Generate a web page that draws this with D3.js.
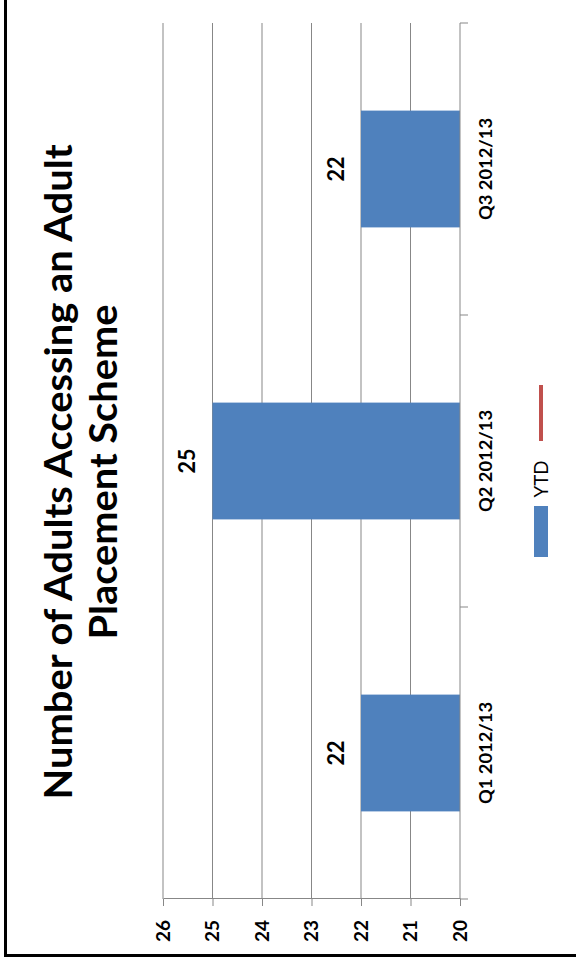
<!DOCTYPE html>
<html>
<head>
<meta charset="utf-8">
<script src="https://cdn.jsdelivr.net/npm/d3@7/dist/d3.min.js"></script>
<style>
  html, body { margin: 0; padding: 0; background: #fff; }
  svg { display: block; }
  text { font-family: Lato, "Open Sans", sans-serif; fill: #000; }
</style>
</head>
<body>
<svg id="chart" width="576" height="964"></svg>
<script>
// Quarterly counts of adults in an adult placement scheme
const categories = ["Q1 2012/13", "Q2 2012/13", "Q3 2012/13"];
const ytdValues = [22, 25, 22];
const valueTicks = [20, 21, 22, 23, 24, 25, 26];
const titleLines = ["Number of Adults Accessing an Adult", "Placement Scheme"];
const legendLabels = ["YTD", ""];

const W = 576, H = 964;
const BAR = "#4F81BD", LINE = "#C0504D", GRID = "#878787";

const svg = d3.select("#chart");

// The whole chart is laid out on its side: local u runs up the page,
// local v runs across the page to the right.
const g = svg.append("g").attr("transform", `translate(0,${H}) rotate(-90)`);

// Outer frame (continues past the top and right edges of the page)
g.append("rect")
  .attr("x", 8.5).attr("y", 5.5)
  .attr("width", 2000).attr("height", 2000)
  .attr("fill", "none").attr("stroke", "#000").attr("stroke-width", 3);

const u = d3.scaleBand().domain(categories).range([65, 941])
  .paddingInner(0.6).paddingOuter(0.3);
const v = d3.scaleLinear().domain([20, 26]).range([460, 163]);

// Gridlines
g.append("g").selectAll("line")
  .data(valueTicks.filter(t => t > 20))
  .join("line")
  .attr("x1", 65).attr("x2", 941)
  .attr("y1", d => v(d)).attr("y2", d => v(d))
  .attr("stroke", GRID).attr("stroke-width", 1);

// Bars
g.append("g").selectAll("rect")
  .data(categories.map((c, i) => ({ c, val: ytdValues[i] })))
  .join("rect")
  .attr("x", d => u(d.c))
  .attr("width", u.bandwidth())
  .attr("y", d => v(d.val))
  .attr("height", d => v(20) - v(d.val))
  .attr("fill", BAR);

// Value axis
const valueAxis = g.append("g")
  .attr("transform", "translate(65,0)")
  .call(d3.axisLeft(v).tickValues(valueTicks).tickFormat(d3.format("d"))
    .tickSize(7).tickSizeOuter(0).tickPadding(14));
valueAxis.select(".domain").attr("stroke", GRID);
valueAxis.selectAll(".tick line").attr("stroke", GRID);
valueAxis.selectAll(".tick text")
  .attr("font-family", "Lato, sans-serif")
  .attr("font-size", 19.5).attr("font-weight", "bold").attr("fill", "#000")
  .attr("textLength", 22).attr("lengthAdjust", "spacingAndGlyphs");

// Category axis
const catAxis = g.append("g")
  .attr("transform", "translate(0,460)")
  .call(d3.axisBottom(u).tickSize(0).tickPadding(20));
catAxis.select(".domain").remove();
catAxis.append("line")
  .attr("x1", 65).attr("x2", 941).attr("y1", 0).attr("y2", 0)
  .attr("stroke", GRID);
catAxis.selectAll(".tick text")
  .attr("font-family", "Lato, sans-serif")
  .attr("font-size", 16.5).attr("font-weight", "bold").attr("fill", "#000")
  .attr("textLength", 102).attr("lengthAdjust", "spacingAndGlyphs");
const step = u.step();
catAxis.append("g").selectAll("line")
  .data(d3.range(categories.length + 1))
  .join("line")
  .attr("x1", i => 65 + i * step).attr("x2", i => 65 + i * step)
  .attr("y1", 0).attr("y2", 8)
  .attr("stroke", GRID);

// Data labels
g.append("g").selectAll("text")
  .data(categories.map((c, i) => ({ c, val: ytdValues[i] })))
  .join("text")
  .attr("x", d => u(d.c) + u.bandwidth() / 2)
  .attr("y", d => v(d.val) - 25)
  .attr("dy", "0.35em")
  .attr("text-anchor", "middle")
  .attr("font-size", 22).attr("font-weight", "bold")
  .attr("textLength", 25).attr("lengthAdjust", "spacingAndGlyphs")
  .text(d => d.val);

// Title
g.append("g").selectAll("text")
  .data(titleLines)
  .join("text")
  .attr("x", 492)
  .attr("y", (d, i) => 72 + i * 45)
  .attr("text-anchor", "middle")
  .attr("font-size", 38).attr("font-weight", "bold")
  .attr("textLength", (d, i) => i === 0 ? 655 : 335)
  .attr("lengthAdjust", "spacingAndGlyphs")
  .text(d => d);

// Legend
const legend = g.append("g");
legend.append("rect")
  .attr("x", 407).attr("y", 534).attr("width", 51).attr("height", 14)
  .attr("fill", BAR);
legend.append("text")
  .attr("x", 485).attr("y", 541).attr("dy", "0.35em")
  .attr("text-anchor", "middle")
  .attr("font-size", 20)
  .attr("textLength", 37).attr("lengthAdjust", "spacingAndGlyphs")
  .text(legendLabels[0]);
legend.append("line")
  .attr("x1", 523).attr("x2", 579).attr("y1", 541).attr("y2", 541)
  .attr("stroke", LINE).attr("stroke-width", 4);
legend.append("text")
  .attr("x", 600).attr("y", 541).attr("dy", "0.35em")
  .attr("font-size", 20)
  .text(legendLabels[1]);
</script>
</body>
</html>
